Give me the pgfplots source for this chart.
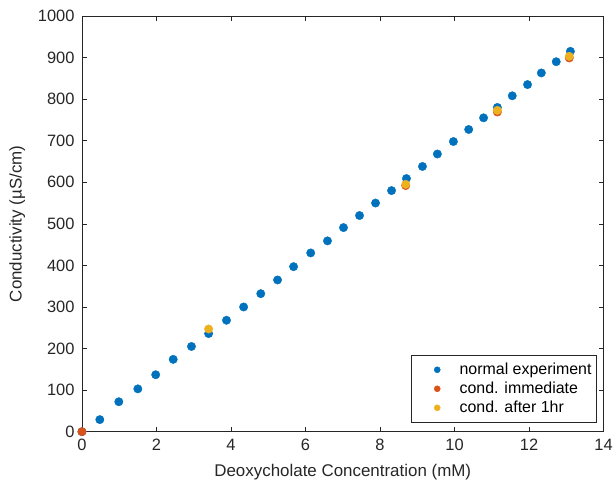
\documentclass[border=0pt]{standalone}
\usepackage{pgfplots}
\pgfplotsset{compat=1.18}
\usepackage{fontspec}
\setmainfont{Liberation Sans}
\definecolor{mblue}{rgb}{0,0.447,0.741}
\definecolor{mred}{rgb}{0.85,0.325,0.098}
\definecolor{myel}{rgb}{0.929,0.694,0.125}
\definecolor{axgray}{rgb}{0.15,0.15,0.15}
\begin{document}
\begin{tikzpicture}
\begin{axis}[
  at={(0,0)}, anchor=south west,
  scale only axis,
  width=522bp, height=416bp,
  xmin=0, xmax=14, ymin=0, ymax=1000,
  xtick={0,2,...,14}, ytick={0,100,...,1000},
  tick align=inside,
  major tick length=5bp,
  axis line style={axgray, line width=0.5pt},
  tick style={axgray, line width=0.5pt},
  every tick label/.append style={font=\fontsize{16.5}{19}\selectfont, text=axgray},
  yticklabel style={xshift=-4bp},
  xticklabel style={yshift=-4bp},
  /pgf/number format/assume math mode=true,
  /pgf/number format/1000 sep={},
  xlabel={Deoxycholate Concentration (mM)},
  ylabel={Conductivity (µS/cm)},
  label style={font=\fontsize{17}{20}\selectfont, text=axgray},
  xlabel style={yshift=-7bp},
  ylabel style={yshift=6bp},
  legend style={at={(0.987,0.022)}, anchor=south east, font=\fontsize{16}{19}\selectfont, draw=axgray, line width=0.5pt, row sep=2pt, inner xsep=3pt, inner ysep=6pt},
  legend cell align=left,
  legend image code/.code={\path[draw=none] (0,0) -- (1.52cm,0); \draw[#1, mark size=3bp] plot coordinates {(0.8cm,0cm)};},
]
\addplot[only marks, mark=*, mark size=4.2bp, color=mblue, mark options={draw=mblue, fill=mblue}] coordinates {
(0,0) (0.48,29) (0.99,72) (1.50,103) (1.98,137) (2.45,174) (2.94,205) (3.40,236) (3.88,268) (4.34,300) (4.80,332) (5.25,365) (5.68,397) (6.14,430) (6.59,459) (7.02,491) (7.45,520) (7.88,550) (8.31,580) (8.71,609) (9.14,638) (9.54,668) (9.97,698) (10.38,727) (10.78,755) (11.15,780) (11.55,808) (11.96,835) (12.33,863) (12.73,890) (13.11,915)
};
\addlegendentry{normal experiment}
\addplot[only marks, mark=*, mark size=4.2bp, color=mred, mark options={draw=mred, fill=mred}] coordinates {
(0,0) (8.69,592) (11.15,769) (13.08,899)
};
\addlegendentry{cond. immediate}
\addplot[only marks, mark=*, mark size=4.2bp, color=myel, mark options={draw=myel, fill=myel}] coordinates {
(3.40,247) (8.69,595) (11.15,773) (13.08,903)
};
\addlegendentry{cond. after 1hr}
\end{axis}
\path[use as bounding box] (-82bp,-52bp) rectangle (534bp,432bp);
\end{tikzpicture}
\end{document}
